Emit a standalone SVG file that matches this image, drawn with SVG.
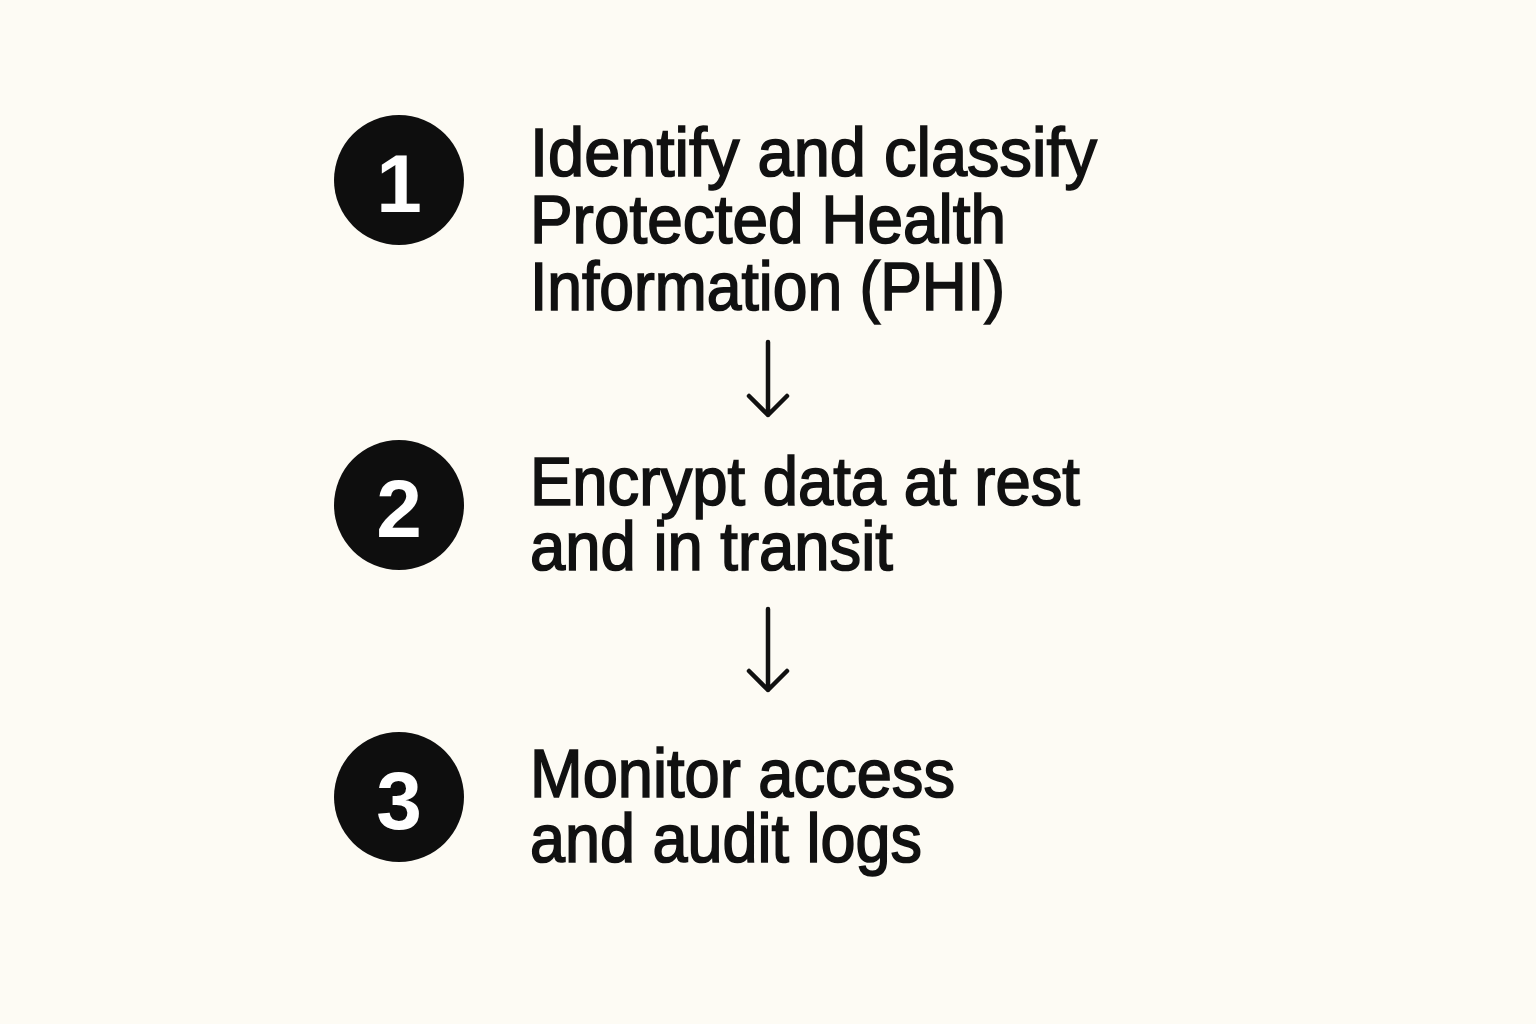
<svg xmlns="http://www.w3.org/2000/svg" width="1536" height="1024" viewBox="0 0 1536 1024">
<style>
.bg{fill:#FDFBF4}
.badge{fill:#0E0E0E}
.num{fill:#FFFFFF;font-family:"Liberation Sans",Arial,sans-serif;font-weight:bold;font-size:82px;text-anchor:middle}
.lbl{fill:#111111;stroke:#111111;stroke-width:1.7;font-family:"Liberation Sans",Arial,sans-serif;font-size:69px}
.conn{stroke:#111111;stroke-width:4.5;fill:none;stroke-linecap:round;stroke-linejoin:round}
</style>
<rect class="bg" x="0" y="0" width="1536" height="1024"/>
<g id="step1">
<circle class="badge" cx="399" cy="180" r="65"/>
<text class="num" x="399" y="212">1</text>
<text class="lbl" x="530" y="176" textLength="567" lengthAdjust="spacingAndGlyphs">Identify and classify</text>
<text class="lbl" x="530" y="243" textLength="476" lengthAdjust="spacingAndGlyphs">Protected Health</text>
<text class="lbl" x="530" y="310" textLength="475" lengthAdjust="spacingAndGlyphs">Information (PHI)</text>
</g>
<g id="step2">
<circle class="badge" cx="399" cy="505" r="65"/>
<text class="num" x="399" y="537">2</text>
<text class="lbl" x="530" y="505" textLength="550" lengthAdjust="spacingAndGlyphs">Encrypt data at rest</text>
<text class="lbl" x="530" y="570" textLength="363" lengthAdjust="spacingAndGlyphs">and in transit</text>
</g>
<g id="step3">
<circle class="badge" cx="399" cy="797" r="65"/>
<text class="num" x="399" y="829">3</text>
<text class="lbl" x="530" y="797" textLength="425" lengthAdjust="spacingAndGlyphs">Monitor access</text>
<text class="lbl" x="530" y="862" textLength="392" lengthAdjust="spacingAndGlyphs">and audit logs</text>
</g>
<g id="connectors">
<path class="conn" d="M768 342 V415 M749 396 L768 415 L787 396"/>
<path class="conn" d="M768 609 V690 M749 671 L768 690 L787 671"/>
</g>
</svg>
